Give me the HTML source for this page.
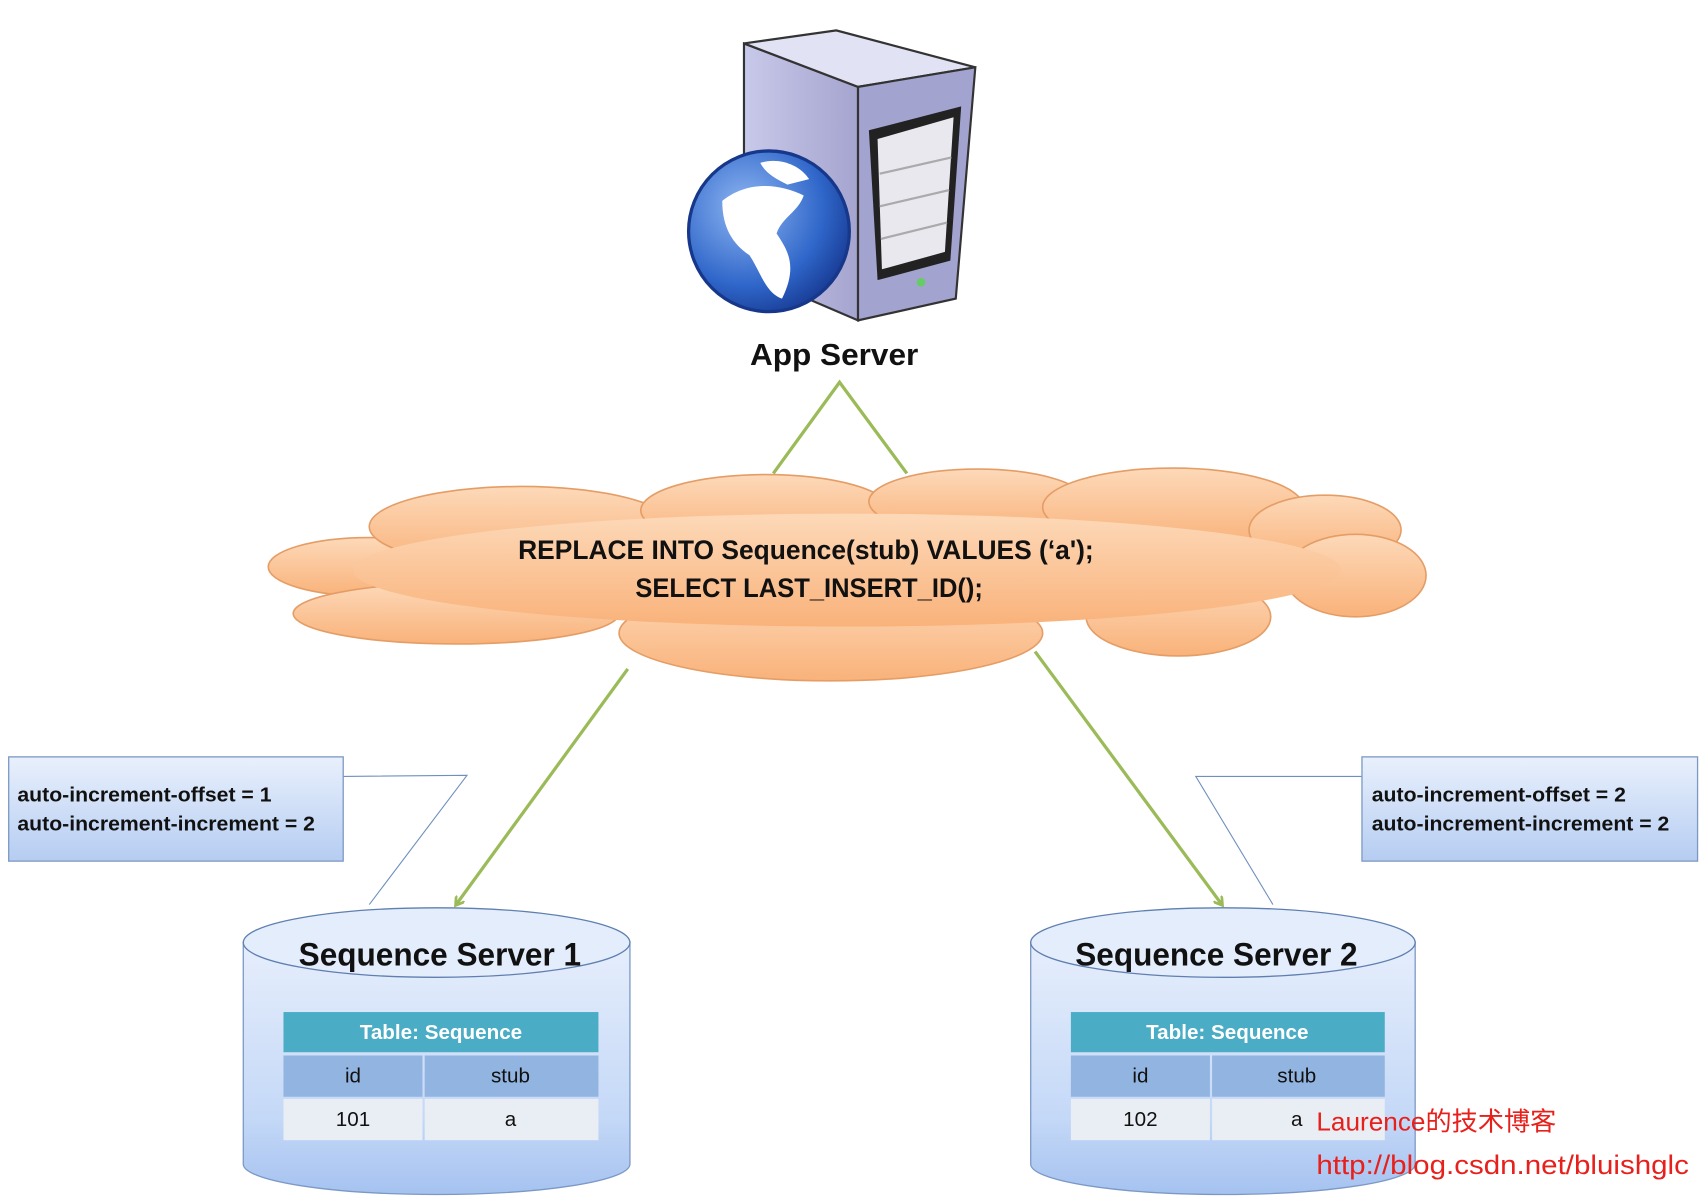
<!DOCTYPE html>
<html><head><meta charset="utf-8"><style>
html,body{margin:0;padding:0;background:#fff;}
svg{display:block;}
text{font-family:"Liberation Sans","DejaVu Sans",sans-serif;}
</style></head><body>
<svg width="1703" height="1201" viewBox="0 0 1568 1106" preserveAspectRatio="none" xmlns="http://www.w3.org/2000/svg">
<defs>
<linearGradient id="cl" x1="0" y1="0" x2="0" y2="1">
<stop offset="0" stop-color="#fdd9b9"/><stop offset="1" stop-color="#f9b27a"/></linearGradient>
<linearGradient id="cy" x1="0" y1="0" x2="0" y2="1">
<stop offset="0" stop-color="#e6eefc"/><stop offset="0.7" stop-color="#c4d8f7"/><stop offset="1" stop-color="#a5c2f0"/></linearGradient>
<linearGradient id="bx" x1="0" y1="0" x2="0" y2="1">
<stop offset="0" stop-color="#e9f0fc"/><stop offset="1" stop-color="#b5cdf2"/></linearGradient>
<linearGradient id="sv" x1="0" y1="0" x2="1" y2="0">
<stop offset="0" stop-color="#c9c9ea"/><stop offset="1" stop-color="#a4a4cf"/></linearGradient>
<radialGradient id="gl" cx="0.35" cy="0.35" r="0.7">
<stop offset="0" stop-color="#8fb6f2"/><stop offset="0.7" stop-color="#2f66c9"/><stop offset="1" stop-color="#1a3f99"/></radialGradient>
<marker id="ar" markerWidth="10" markerHeight="10" refX="7" refY="5" orient="auto" markerUnits="userSpaceOnUse">
<path d="M0,0 L8,5 L0,10" fill="none" stroke="#9bbb59" stroke-width="2.5"/></marker>
</defs>

<!-- server -->
<path d="M685,40 L685,250 L790,295 L790,80 Z" fill="url(#sv)" stroke="#333" stroke-width="2"/>
<path d="M685,40 L790,80 L898,62 L770,28 Z" fill="#e2e2f5" stroke="#333" stroke-width="2"/>
<path d="M790,80 L898,62 L880,275 L790,295 Z" fill="#a3a3d0" stroke="#333" stroke-width="2"/>
<path d="M800,120 L885,98 L875,240 L808,258 Z" fill="#222"/>
<path d="M808,128 L878,108 L870,232 L812,248 Z" fill="#e8e8ee"/>
<line x1="810" y1="160" x2="876" y2="145" stroke="#aaa" stroke-width="2"/>
<line x1="810" y1="190" x2="874" y2="175" stroke="#aaa" stroke-width="2"/>
<line x1="811" y1="220" x2="872" y2="205" stroke="#aaa" stroke-width="2"/>
<circle cx="848" cy="260" r="4" fill="#6c6"/>
<circle cx="708" cy="213" r="74" fill="url(#gl)" stroke="#17378a" stroke-width="3"/>
<path d="M665,185 C690,165 720,170 740,180 C735,195 720,200 715,215 C725,230 735,245 720,275 C705,270 700,250 690,235 C675,225 665,210 665,185 Z" fill="#fff"/>
<path d="M700,150 C715,145 735,150 745,165 L725,170 C715,165 705,160 700,150 Z" fill="#fff"/>

<text x="768" y="336" font-size="28" font-weight="bold" text-anchor="middle" fill="#111" textLength="155" lengthAdjust="spacingAndGlyphs">App Server</text>

<polyline points="712,436 773,352 835,436" fill="none" stroke="#9bbb59" stroke-width="3"/>

<!-- cloud -->
<g fill="url(#cl)" stroke="#e59d66" stroke-width="1.5">
<ellipse cx="340" cy="522" rx="93" ry="27"/>
<ellipse cx="420" cy="565" rx="150" ry="28"/>
<ellipse cx="480" cy="485" rx="140" ry="37"/>
<ellipse cx="705" cy="470" rx="115" ry="33"/>
<ellipse cx="900" cy="462" rx="100" ry="30"/>
<ellipse cx="1080" cy="467" rx="120" ry="36"/>
<ellipse cx="1220" cy="488" rx="70" ry="32"/>
<ellipse cx="1248" cy="530" rx="65" ry="38"/>
<ellipse cx="1085" cy="568" rx="85" ry="36"/>
<ellipse cx="765" cy="583" rx="195" ry="44"/>
</g>
<ellipse cx="780" cy="525" rx="455" ry="52" fill="url(#cl)"/>
<text x="742" y="515" font-size="25" font-weight="bold" text-anchor="middle" fill="#111" textLength="530" lengthAdjust="spacingAndGlyphs">REPLACE INTO Sequence(stub)  VALUES (‘a');</text>
<text x="745" y="550" font-size="25" font-weight="bold" text-anchor="middle" fill="#111" textLength="320" lengthAdjust="spacingAndGlyphs">SELECT LAST_INSERT_ID();</text>

<line x1="578" y1="616" x2="420" y2="833" stroke="#9bbb59" stroke-width="3" marker-end="url(#ar)"/>
<line x1="953" y1="600" x2="1125" y2="833" stroke="#9bbb59" stroke-width="3" marker-end="url(#ar)"/>

<polyline points="316,715 430,714 340,833" fill="none" stroke="#6f8fbf" stroke-width="1"/>
<polyline points="1254,715 1101,715 1172,833" fill="none" stroke="#6f8fbf" stroke-width="1"/>
<rect x="8" y="697" width="308" height="96" fill="url(#bx)" stroke="#7c99c6" stroke-width="1.2"/>
<text x="16" y="738" font-size="19" font-weight="bold" fill="#111" textLength="234" lengthAdjust="spacingAndGlyphs">auto-increment-offset = 1</text>
<text x="16" y="765" font-size="19" font-weight="bold" fill="#111" textLength="274" lengthAdjust="spacingAndGlyphs">auto-increment-increment = 2</text>
<rect x="1254" y="697" width="309" height="96" fill="url(#bx)" stroke="#7c99c6" stroke-width="1.2"/>
<text x="1263" y="738" font-size="19" font-weight="bold" fill="#111" textLength="234" lengthAdjust="spacingAndGlyphs">auto-increment-offset = 2</text>
<text x="1263" y="765" font-size="19" font-weight="bold" fill="#111" textLength="274" lengthAdjust="spacingAndGlyphs">auto-increment-increment = 2</text>

<!-- cylinder 1 -->
<path d="M224,868 L224,1072 A178,28 0 0 0 580,1072 L580,868 Z" fill="url(#cy)" stroke="#7c99c6" stroke-width="1.2"/>
<ellipse cx="402" cy="868" rx="178" ry="32" fill="#e4edfc" stroke="#5f7fb0" stroke-width="1.2"/>
<text x="405" y="889" font-size="30" font-weight="bold" text-anchor="middle" fill="#111" textLength="260" lengthAdjust="spacingAndGlyphs">Sequence Server 1</text>
<rect x="261" y="932" width="290" height="37" fill="#4bacc6"/>
<text x="406" y="957" font-size="19" font-weight="bold" text-anchor="middle" fill="#fff">Table: Sequence</text>
<rect x="261" y="972" width="128" height="38" fill="#92b4e0"/>
<rect x="391" y="972" width="160" height="38" fill="#92b4e0"/>
<text x="325" y="997" font-size="19" text-anchor="middle" fill="#111">id</text>
<text x="470" y="997" font-size="19" text-anchor="middle" fill="#111">stub</text>
<rect x="261" y="1012" width="128" height="38" fill="#e9edf4"/>
<rect x="391" y="1012" width="160" height="38" fill="#e9edf4"/>
<text x="325" y="1037" font-size="19" text-anchor="middle" fill="#111">101</text>
<text x="470" y="1037" font-size="19" text-anchor="middle" fill="#111">a</text>

<!-- cylinder 2 -->
<path d="M949,868 L949,1072 A177,28 0 0 0 1303,1072 L1303,868 Z" fill="url(#cy)" stroke="#7c99c6" stroke-width="1.2"/>
<ellipse cx="1126" cy="868" rx="177" ry="32" fill="#e4edfc" stroke="#5f7fb0" stroke-width="1.2"/>
<text x="1120" y="889" font-size="30" font-weight="bold" text-anchor="middle" fill="#111" textLength="260" lengthAdjust="spacingAndGlyphs">Sequence Server 2</text>
<rect x="986" y="932" width="289" height="37" fill="#4bacc6"/>
<text x="1130" y="957" font-size="19" font-weight="bold" text-anchor="middle" fill="#fff">Table: Sequence</text>
<rect x="986" y="972" width="128" height="38" fill="#92b4e0"/>
<rect x="1116" y="972" width="159" height="38" fill="#92b4e0"/>
<text x="1050" y="997" font-size="19" text-anchor="middle" fill="#111">id</text>
<text x="1194" y="997" font-size="19" text-anchor="middle" fill="#111">stub</text>
<rect x="986" y="1012" width="128" height="38" fill="#e9edf4"/>
<rect x="1116" y="1012" width="159" height="38" fill="#e9edf4"/>
<text x="1050" y="1037" font-size="19" text-anchor="middle" fill="#111">102</text>
<text x="1194" y="1037" font-size="19" text-anchor="middle" fill="#111">a</text>

<text x="1212" y="1041" font-size="24" fill="#e8201c" textLength="221" lengthAdjust="spacingAndGlyphs" style='font-family:"Liberation Sans","Noto Sans CJK SC",sans-serif'>Laurence的技术博客</text>
<text x="1212" y="1081" font-size="25" fill="#e8201c" textLength="343" lengthAdjust="spacingAndGlyphs">http://blog.csdn.net/bluishglc</text>
</svg>
</body></html>
